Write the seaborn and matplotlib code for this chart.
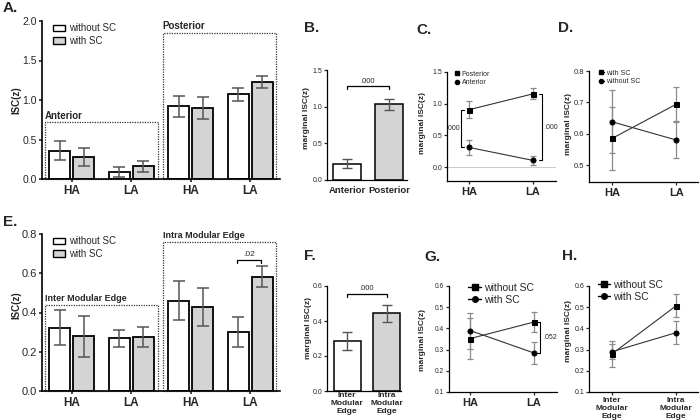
import numpy as np
import pandas as pd
import matplotlib
matplotlib.use("Agg")
import matplotlib.pyplot as plt
import seaborn as sns
from matplotlib.patches import Rectangle, Patch
from matplotlib.lines import Line2D
from matplotlib.ticker import FormatStrFormatter

# ---------------- data ----------------
# A. ISC(z) per region x anxiety group, with / without SC
a_regions = ["Anterior", "Anterior", "Posterior", "Posterior"]
a_levels = ["HA", "LA", "HA", "LA"]
a_without = [0.36, 0.09, 0.92, 1.07]
a_without_se = [0.12, 0.06, 0.13, 0.085]
a_with = [0.28, 0.16, 0.90, 1.23]
a_with_se = [0.115, 0.07, 0.135, 0.075]

# B. marginal ISC by region
b_labels = ["Anterior", "Posterior"]
b_vals = [0.22, 1.03]
b_se = [0.063, 0.077]

# C. region x anxiety
c_levels = ["HA", "LA"]
c_posterior = [0.905, 1.155]
c_posterior_se = [0.13, 0.085]
c_anterior = [0.31, 0.105]
c_anterior_se = [0.115, 0.065]

# D. SC x anxiety
d_with = [0.585, 0.694]
d_with_se = [0.10, 0.054]
d_without = [0.638, 0.58]
d_without_se = [0.10, 0.056]

# E. ISC(z) per edge type x anxiety group, with / without SC
e_edges = ["Inter", "Inter", "Intra", "Intra"]
e_levels = ["HA", "LA", "HA", "LA"]
e_without = [0.323, 0.269, 0.46, 0.30]
e_without_se = [0.089, 0.043, 0.10, 0.077]
e_with = [0.278, 0.277, 0.427, 0.583]
e_with_se = [0.106, 0.051, 0.097, 0.055]

# F. marginal ISC by edge type
f_labels = ["Inter\nModular\nEdge", "Intra\nModular\nEdge"]
f_vals = [0.288, 0.444]
f_se = [0.052, 0.049]

# G. SC x anxiety (edges)
g_levels = ["HA", "LA"]
g_without = [0.352, 0.43]
g_without_se = [0.095, 0.047]
g_with = [0.39, 0.284]
g_with_se = [0.085, 0.051]

# H. SC x edge type
h_labels = ["Inter\nModular\nEdge", "Intra\nModular\nEdge"]
h_without = [0.28, 0.507]
h_without_se = [0.062, 0.055]
h_with = [0.29, 0.38]
h_with_se = [0.036, 0.055]

WHITE = "white"
GREY = "#d4d4d4"
ERR = "#555555"

sns.set_style("white")
plt.rcParams["font.family"] = ["Liberation Sans", "DejaVu Sans"]

W, H = 700, 420
fig = plt.figure(figsize=(7, 4.2), dpi=100)


def px_axes(l, t, r, b):
    return fig.add_axes([l / W, 1 - b / H, (r - l) / W, (b - t) / H])


def style(ax, lw=0.9, tick_fs=5, cat_fs=8, cat_bold=True):
    sns.despine(ax=ax)
    for s in ["left", "bottom"]:
        ax.spines[s].set_linewidth(lw)
        ax.spines[s].set_color("black")
    ax.tick_params(axis="y", labelsize=tick_fs, length=2.5, width=lw, pad=1,
                   left=True, direction="out")
    ax.tick_params(axis="x", labelsize=cat_fs, length=2.5, width=lw, pad=2,
                   bottom=True, direction="out")
    for t in ax.get_xticklabels():
        t.set_fontweight("bold" if cat_bold else "normal")
    ax.set_xlabel("")
    ax.set_ylabel("")


def panel_letter(x, y, s):
    fig.text(x / W, 1 - y / H, s, fontsize=11, fontweight="bold", va="center")


def ylab(x, y, s, fs=6, bold=True):
    fig.text(x / W, 1 - y / H, s, fontsize=fs, rotation=90,
             fontweight="bold" if bold else "normal", ha="center", va="center")


def grouped_bars(ax, keys, without, without_se, with_, with_se):
    df = pd.DataFrame({
        "key": keys * 2,
        "sc": ["without SC"] * len(keys) + ["with SC"] * len(keys),
        "isc": list(without) + list(with_),
    })
    sns.barplot(data=df, x="key", y="isc", hue="sc", order=keys,
                hue_order=["without SC", "with SC"],
                palette={"without SC": WHITE, "with SC": GREY},
                edgecolor="black", linewidth=1.3, width=0.8, gap=0.12,
                errorbar=None, legend=False, ax=ax, zorder=2)
    for cont, se in zip(ax.containers, [without_se, with_se]):
        xs = [p.get_x() + p.get_width() / 2 for p in cont.patches]
        ys = [p.get_height() for p in cont.patches]
        ax.errorbar(xs, ys, yerr=se, fmt="none", ecolor=ERR, elinewidth=1.1,
                    capsize=4.3, capthick=1.1, zorder=3)


def region_box(ax, x0, x1, top, label, fs):
    ax.add_patch(Rectangle((x0, 0), x1 - x0, top, fill=False,
                           linestyle=(0, (1, 1)), linewidth=0.9,
                           edgecolor="#333333", zorder=1, clip_on=False))
    ax.text(x0, top * 1.015, label, fontsize=fs, fontweight="bold",
            ha="left", va="bottom")


def sc_legend(ax, anchor, fs=7):
    handles = [Patch(facecolor=WHITE, edgecolor="black", linewidth=1.0),
               Patch(facecolor=GREY, edgecolor="black", linewidth=1.0)]
    ax.legend(handles, ["without SC", "with SC"], loc="upper left",
              bbox_to_anchor=anchor, frameon=False, fontsize=fs,
              handlelength=1.3, handleheight=0.65, handletextpad=0.4,
              labelspacing=0.25, borderpad=0, borderaxespad=0)


def single_bars(ax, labels, vals, se, width):
    df = pd.DataFrame({"cond": labels, "isc": vals})
    sns.barplot(data=df, x="cond", y="isc", hue="cond", order=labels,
                palette=[WHITE, GREY], edgecolor="black", linewidth=1.1,
                width=width, errorbar=None, legend=False, ax=ax, zorder=2)
    pts = [(p.get_x() + p.get_width() / 2, p.get_height()) for p in ax.patches]
    ax.errorbar([p[0] for p in pts], [p[1] for p in pts], yerr=se, fmt="none",
                ecolor=ERR, elinewidth=1.0, capsize=3.3, capthick=1.0, zorder=3)
    return pts


def hbracket(ax, x0, x1, y, h, text, fs=5.5):
    ax.plot([x0, x0, x1, x1], [y - h, y, y, y - h], color="black", lw=0.9)
    ax.text((x0 + x1) / 2, y + h * 0.6, text, ha="center", va="bottom", fontsize=fs)


def vbracket(ax, x, y0, y1, w, text, tx, fs=5):
    ax.plot([x + w, x, x, x + w], [y0, y0, y1, y1], color="black", lw=0.8,
            clip_on=False)
    ax.text(tx, (y0 + y1) / 2, text, ha="center", va="center", fontsize=fs)


def interaction(ax, series, ms=3.6, cap=2.5):
    xs = np.arange(len(series[0][0]))
    for vals, se, marker in series:
        ax.errorbar(xs, vals, yerr=se, fmt="none", ecolor="#8a8a8a",
                    elinewidth=0.9, capsize=cap, capthick=0.9, zorder=2)
        sns.lineplot(x=xs, y=vals, ax=ax, color="#333333", linewidth=0.8,
                     marker=marker, markersize=ms, markerfacecolor="black",
                     markeredgecolor="black", errorbar=None, zorder=3)


def line_legend(ax, labels, markers, anchor, fs, ms, hl):
    handles = [Line2D([], [], color="black", lw=1.0, marker=m, markersize=ms,
                      markerfacecolor="black") for m in markers]
    ax.legend(handles, labels, loc="upper left", bbox_to_anchor=anchor,
              frameon=False, fontsize=fs, handlelength=hl, handletextpad=0.3,
              labelspacing=0.2, borderpad=0, borderaxespad=0)


# ---------------- A ----------------
axA = px_axes(42, 21, 280, 179)
a_keys = [r + " " + l for r, l in zip(a_regions, a_levels)]
grouped_bars(axA, a_keys, a_without, a_without_se, a_with, a_with_se)
axA.set_xlim(-0.5, 3.5)
axA.set_ylim(0, 2.0)
axA.set_yticks([0, 0.5, 1.0, 1.5, 2.0])
axA.yaxis.set_major_formatter(FormatStrFormatter("%.1f"))
axA.set_xticks(range(4))
axA.set_xticklabels(a_levels)
style(axA, lw=1.2, tick_fs=7.5, cat_fs=8.5)
region_box(axA, -0.45, 1.45, 0.72, "Anterior", 7)
region_box(axA, 1.53, 3.43, 1.85, "Posterior", 7)
sc_legend(axA, (0.045, 0.985))

# ---------------- B ----------------
axB = px_axes(327, 70, 407, 180)
ptsB = single_bars(axB, b_labels, b_vals, b_se, 0.67)
axB.set_xlim(-0.476, 1.43)
axB.set_ylim(0, 1.5)
axB.set_yticks([0, 0.5, 1.0, 1.5])
axB.yaxis.set_major_formatter(FormatStrFormatter("%.1f"))
style(axB, tick_fs=5, cat_fs=6.8)
axB.tick_params(axis="x", length=0, pad=4)
hbracket(axB, ptsB[0][0], ptsB[1][0], max(b_vals) + max(b_se) + 0.17, 0.04, ".000")

# ---------------- C ----------------
axC = px_axes(447, 72, 556, 181)
axC.axhline(0, color="#cccccc", lw=0.8, zorder=1)
interaction(axC, [(c_posterior, c_posterior_se, "s"),
                  (c_anterior, c_anterior_se, "o")])
axC.set_xlim(-0.344, 1.36)
axC.set_ylim(-0.22, 1.5)
axC.set_yticks([0, 0.5, 1.0, 1.5])
axC.yaxis.set_major_formatter(FormatStrFormatter("%.1f"))
axC.set_xticks(range(2))
axC.set_xticklabels(c_levels)
style(axC, tick_fs=5, cat_fs=8)
vbracket(axC, -0.13, c_anterior[0], c_posterior[0], 0.05, ".000", -0.24)
vbracket(axC, 1.14, c_posterior[1], c_anterior[1], -0.05, ".000", 1.29)
line_legend(axC, ["Posterior", "Anterior"], ["s", "o"], (0.07, 1.01), 5, 3, 0.7)

# ---------------- D ----------------
axD = px_axes(589, 71, 698, 182)
interaction(axD, [(d_with, d_with_se, "s"), (d_without, d_without_se, "o")],
            cap=2.2)
axD.set_xlim(-0.36, 1.34)
axD.set_ylim(0.446, 0.8)
axD.set_yticks([0.5, 0.6, 0.7, 0.8])
axD.yaxis.set_major_formatter(FormatStrFormatter("%.1f"))
axD.set_xticks(range(2))
axD.set_xticklabels(c_levels)
style(axD, tick_fs=5.5, cat_fs=8)
line_legend(axD, ["with SC", "without SC"], ["s", "o"], (0.09, 1.01), 5, 3, 0.7)

# ---------------- E ----------------
axE = px_axes(42, 234, 280, 391)
e_keys = [r + " " + l for r, l in zip(e_edges, e_levels)]
grouped_bars(axE, e_keys, e_without, e_without_se, e_with, e_with_se)
axE.set_xlim(-0.5, 3.5)
axE.set_ylim(0, 0.8)
axE.set_yticks([0, 0.2, 0.4, 0.6, 0.8])
axE.yaxis.set_major_formatter(FormatStrFormatter("%.1f"))
axE.set_xticks(range(4))
axE.set_xticklabels(e_levels)
style(axE, lw=1.2, tick_fs=8, cat_fs=8.5)
region_box(axE, -0.45, 1.45, 0.44, "Inter Modular Edge", 6.5)
region_box(axE, 1.53, 3.43, 0.76, "Intra Modular Edge", 6.5)
sc_legend(axE, (0.045, 0.985))
hbracket(axE, 2.78, 3.18, e_with[3] + e_with_se[3] + 0.03, 0.015, ".02", fs=6)

# ---------------- F ----------------
axF = px_axes(327, 286, 401, 391)
ptsF = single_bars(axF, f_labels, f_vals, f_se, 0.69)
axF.set_xlim(-0.51, 1.36)
axF.set_ylim(0, 0.6)
axF.set_yticks([0, 0.2, 0.4, 0.6])
axF.yaxis.set_major_formatter(FormatStrFormatter("%.1f"))
style(axF, tick_fs=5, cat_fs=6)
axF.tick_params(axis="x", length=0, pad=1)
hbracket(axF, ptsF[0][0], ptsF[1][0], max(f_vals) + max(f_se) + 0.06, 0.018, ".000")

# ---------------- G ----------------
axG = px_axes(449, 286, 557, 392)
interaction(axG, [(g_without, g_without_se, "s"), (g_with, g_with_se, "o")])
axG.set_xlim(-0.33, 1.36)
axG.set_ylim(0.1, 0.6)
axG.set_yticks([0.1, 0.2, 0.3, 0.4, 0.5, 0.6])
axG.yaxis.set_major_formatter(FormatStrFormatter("%.1f"))
axG.set_xticks(range(2))
axG.set_xticklabels(g_levels)
style(axG, tick_fs=4.8, cat_fs=8)
vbracket(axG, 1.1, g_without[1], g_with[1], -0.05, ".052", 1.25, fs=5)
line_legend(axG, ["without SC", "with SC"], ["s", "o"], (0.18, 1.03), 7.5, 4, 1.2)

# ---------------- H ----------------
axH = px_axes(589, 286, 698, 392)
interaction(axH, [(h_without, h_without_se, "s"), (h_with, h_with_se, "o")])
axH.set_xlim(-0.36, 1.34)
axH.set_ylim(0.1, 0.6)
axH.set_yticks([0.1, 0.2, 0.3, 0.4, 0.5, 0.6])
axH.yaxis.set_major_formatter(FormatStrFormatter("%.1f"))
axH.set_xticks(range(2))
axH.set_xticklabels(h_labels)
style(axH, tick_fs=5, cat_fs=6)
axH.tick_params(axis="x", pad=1)
line_legend(axH, ["without SC", "with SC"], ["s", "o"], (0.08, 1.06), 7.5, 4, 1.2)

# ---------------- labels ----------------
panel_letter(3, 8, "A.")
panel_letter(304, 28, "B.")
panel_letter(416, 30, "C.")
panel_letter(558, 28, "D.")
panel_letter(3, 222, "E.")
panel_letter(304, 256, "F.")
panel_letter(424, 257, "G.")
panel_letter(562, 256, "H.")

ylab(16, 100, "ISC(z)", fs=7)
ylab(16, 305, "ISC(z)", fs=7)
ylab(306, 118, "marginal ISC(z)")
ylab(423, 123, "marginal ISC(z)")
ylab(568, 124, "marginal ISC(z)")
ylab(309, 328, "marginal ISC(z)")
ylab(422, 340, "marginal ISC(z)")
ylab(569, 331, "marginal ISC(z)")

fig.savefig("out.png", dpi=100)
